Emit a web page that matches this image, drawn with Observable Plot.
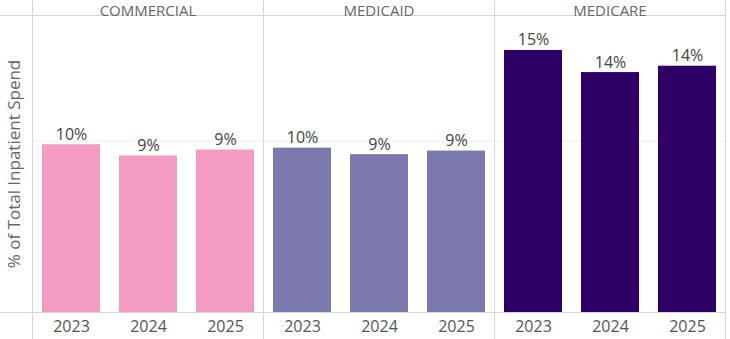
<!DOCTYPE html>
<html><head><meta charset="utf-8">
<script src="https://cdn.jsdelivr.net/npm/d3@7"></script>
<script src="https://cdn.jsdelivr.net/npm/@observablehq/plot@0.6"></script>
<style>body{margin:0;background:#fff} svg{display:block}</style>
</head><body><div id="chart"></div>
<script>
const payers = ["COMMERCIAL", "MEDICAID", "MEDICARE"];
const years = ["2023", "2024", "2025"];
const commercial = [0.0979, 0.0913, 0.0948];
const medicaid = [0.0959, 0.0921, 0.0942];
const medicare = [0.1529, 0.1400, 0.1437];
const colors = ["#F39BC1", "#7B78AD", "#2E0065"];
const gridValues = [0.10];
const yLabel = "% of Total Inpatient Spend";

const series = [commercial, medicaid, medicare];
const data = payers.flatMap((p, i) => years.map((y, j) => ({payer: p, year: y, value: series[i][j]})));

const font = "'Open Sans', sans-serif";
const plot = Plot.plot({
  width: 730, height: 339,
  marginLeft: 31, marginRight: 4, marginTop: 15, marginBottom: 27,
  style: {fontFamily: font, fontSize: "16px", color: "#555", background: "#fff", overflow: "visible"},
  fx: {domain: payers, padding: 0, label: null},
  x: {domain: years, paddingInner: 0.25, paddingOuter: 0.125, label: null},
  y: {domain: [0, 0.1733], label: null},
  color: {domain: payers, range: colors},
  marks: [
    Plot.ruleY(gridValues, {stroke: "#ececec", strokeWidth: 1}),
    Plot.barY(data, {fx: "payer", x: "year", y: "value", fill: "payer"}),
    Plot.text(data, {fx: "payer", x: "year", y: "value", text: d => d3.format(".0%")(d.value),
      lineAnchor: "bottom", dy: -5, fill: "#444", fontSize: 16}),
    Plot.axisFx({anchor: "top", tickSize: 0, tickPadding: 0, label: null, fill: "#666", fontSize: 15}),
    Plot.axisX({anchor: "bottom", tickSize: 0, tickPadding: 8, label: null, fill: "#555", fontSize: 16}),
    Plot.axisY({ticks: [], label: yLabel, labelAnchor: "center", labelArrow: "none", labelOffset: 25, fill: "#666", fontSize: 17})
  ]
});
document.getElementById("chart").appendChild(plot);

// panel border lines from the scales, drawn beneath the marks
const svg = d3.select(plot);
const fx = plot.scale("fx"), ys = plot.scale("y");
const bw = fx.bandwidth;
const edges = payers.map(p => fx.apply(p)).concat([fx.apply(payers[payers.length - 1]) + bw]);
const g = svg.insert("g", ":first-child").attr("stroke", "#d6d6d6").attr("stroke-width", 1).attr("shape-rendering", "crispEdges");
edges.forEach(x => g.append("line").attr("x1", x).attr("x2", x).attr("y1", 0).attr("y2", 339));
[ys.range[0], ys.range[1]].forEach(y => g.append("line").attr("x1", 0).attr("x2", edges[edges.length - 1]).attr("y1", y).attr("y2", y));
</script></body></html>
